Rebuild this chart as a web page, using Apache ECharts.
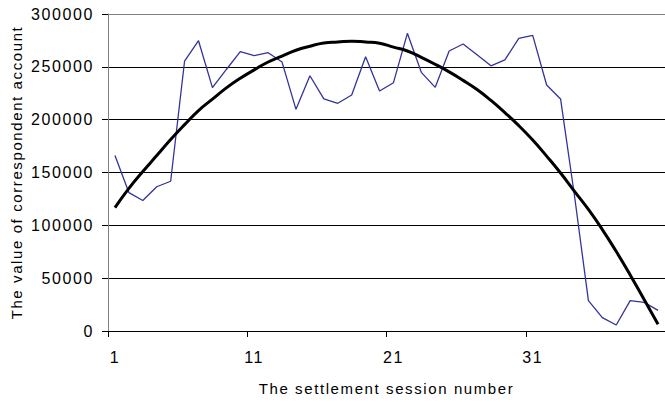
<!DOCTYPE html>
<html>
<head>
<meta charset="utf-8">
<script src="https://cdn.jsdelivr.net/npm/echarts@6/dist/echarts.min.js"></script>
<style>
html,body{margin:0;padding:0;background:#fff;}
#chart{width:665px;height:402px;letter-spacing:1.6px;}
</style>
</head>
<body>
<div id="chart"></div>
<script>
var categories = ['1','2','3','4','5','6','7','8','9','10','11','12','13','14','15','16','17','18','19','20',
  '21','22','23','24','25','26','27','28','29','30','31','32','33','34','35','36','37','38','39','40'];

var accountValues = [166000,131000,123500,136500,141700,255500,274700,230300,247500,264300,
  260500,263400,254500,209800,241600,219600,215500,223300,259600,227100,
  235000,281700,244800,230600,265000,271600,261500,251000,256500,277000,
  279800,232800,219600,128000,28700,12600,5700,28700,27100,19500];

var trendValues = [116700,135000,150900,166000,181200,195300,208600,219400,230100,239200,
  247100,254600,260200,265700,269500,272500,273500,274300,273500,272300,
  268700,265000,259000,252400,245200,237200,228500,218200,206700,194400,
  180700,165500,149500,132200,115000,96000,75200,53100,29800,6400];

var yTicks = [0, 50000, 100000, 150000, 200000, 250000, 300000];

var xAxisTitle = 'The settlement session number';
var yAxisTitle = 'The value of correspondent account';

var chart = echarts.init(document.getElementById('chart'), null, {renderer: 'svg'});
var font = "'Liberation Sans', Arial, sans-serif";
chart.setOption({
  animation: false,
  backgroundColor: '#ffffff',
  grid: {left: 108, right: -7, top: 14, bottom: 71, containLabel: false},
  xAxis: {
    type: 'category',
    data: categories,
    boundaryGap: true,
    name: xAxisTitle,
    nameLocation: 'middle',
    nameGap: 50,
    nameTextStyle: {color: '#000', fontSize: 15, fontFamily: font},
    axisLine: {show: true, lineStyle: {color: '#000', width: 1}},
    axisTick: {show: true, interval: 9, length: 6, inside: false, lineStyle: {color: '#000', width: 1}},
    axisLabel: {interval: 9, margin: 18, color: '#000', fontSize: 16, fontFamily: font},
    splitLine: {show: false}
  },
  yAxis: {
    type: 'value',
    min: yTicks[0],
    max: yTicks[yTicks.length - 1],
    interval: yTicks[1] - yTicks[0],
    name: yAxisTitle,
    nameLocation: 'middle',
    nameRotate: 90,
    nameGap: 84,
    nameTextStyle: {color: '#000', fontSize: 15, fontFamily: font},
    axisLine: {show: true, lineStyle: {color: '#808080', width: 1}},
    axisTick: {show: true, length: 6, inside: false, lineStyle: {color: '#000', width: 1}},
    axisLabel: {margin: 14, color: '#000', fontSize: 16, fontFamily: font,
      formatter: function (v) { return String(v); }},
    splitLine: {show: true, lineStyle: {color: ['#000','#000','#000','#000','#000','#000','#808080'], width: 1}}
  },
  series: [
    {
      type: 'line',
      data: accountValues,
      symbol: 'none',
      lineStyle: {color: '#333399', width: 1.3},
      z: 2
    },
    {
      type: 'line',
      data: trendValues,
      symbol: 'none',
      smooth: 0.5,
      lineStyle: {color: '#000000', width: 3},
      z: 3
    }
  ]
});
</script>
</body>
</html>
